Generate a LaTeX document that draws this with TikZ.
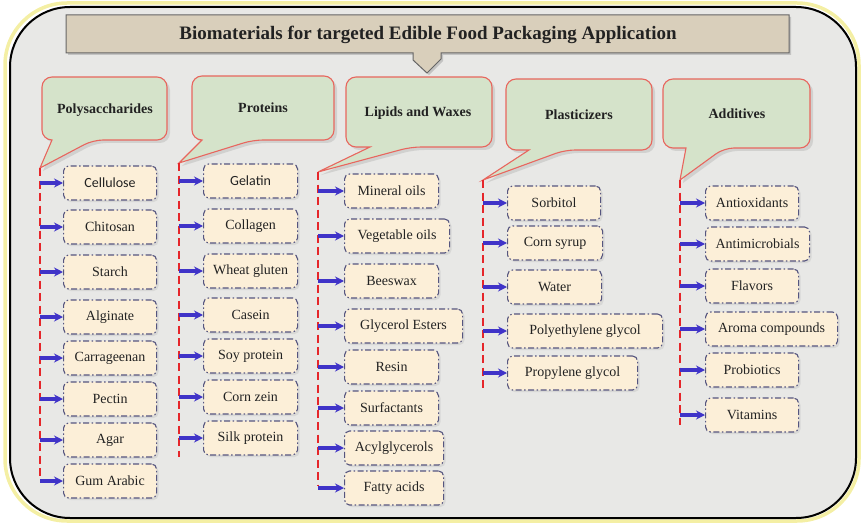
\documentclass[tikz,border=0pt]{standalone}
\usepackage{fontspec}
\setmainfont{Liberation Serif}
\newfontfamily\calfont{Carlito}
\usetikzlibrary{arrows.meta,shadows}
\definecolor{bgc}{HTML}{E8E8E6}
\definecolor{glow}{HTML}{F4EFA4}
\definecolor{banfill}{HTML}{D9CFBB}
\definecolor{callfill}{HTML}{D5E3CA}
\definecolor{callline}{HTML}{E8665E}
\definecolor{boxfill}{HTML}{FCEFD8}
\definecolor{boxline}{HTML}{55557F}
\definecolor{arrc}{HTML}{3F33C8}
\definecolor{dashc}{HTML}{E5262A}
\definecolor{txtc}{HTML}{222222}
\tikzset{
  banshape/.style={fill=banfill,draw=gray!80!black,line width=1pt,
    drop shadow={opacity=0.35,shadow xshift=2pt,shadow yshift=-2pt}},
  callshape/.style={fill=callfill,draw=callline,line width=1.1pt,
    drop shadow={opacity=0.22,shadow xshift=3pt,shadow yshift=-3pt}},
  cattext/.style={font=\fontsize{14}{16}\selectfont\bfseries,text=txtc},
  itembox/.style={anchor=west,draw=boxline,fill=boxfill,rounded corners=5pt,
    line width=1.1pt,dash pattern=on 6pt off 2.5pt on 1.5pt off 2.5pt,
    minimum height=34pt,inner sep=1pt,font=\fontsize{14}{16}\selectfont,text=txtc,
    drop shadow={opacity=0.15,shadow xshift=2pt,shadow yshift=-2pt}},
  conn/.style={draw=arrc,line width=3.2pt,-{Stealth[length=9pt,width=9pt]}},
  dline/.style={draw=dashc,line width=2.2pt,dash pattern=on 8pt off 4.5pt}
}
\begin{document}
\begin{tikzpicture}[x=1pt,y=-1pt]
\useasboundingbox (0,0) rectangle (862,524);
% frame
\draw[glow,line width=3.5pt,rounded corners=62pt] (5,3) rectangle (859,521);
\draw[black,fill=bgc,line width=2pt,rounded corners=60pt] (10,7) rectangle (856,518);
% title banner
\draw[banshape] (66,15) -- (789,15) -- (789,53) -- (441,53) -- (441,59) -- (427,73)
  -- (413,60) -- (413,53) -- (66,53) -- cycle;
\node[font=\fontsize{19}{22}\selectfont\bfseries,text=txtc] (title) at (428,35)
  {Biomaterials for targeted Edible Food Packaging Application};
% dashed line ends
\coordinate (c1top) at (40,168);  \coordinate (c1bot) at (40,480);
\coordinate (c2top) at (179,163); \coordinate (c2bot) at (179,457);
\coordinate (c3top) at (318,172); \coordinate (c3bot) at (318,486);
\coordinate (c4top) at (483,180); \coordinate (c4bot) at (483,388);
\coordinate (c5top) at (680,180); \coordinate (c5bot) at (680,425);
% callouts
\draw[callshape] (52,140) [rounded corners=10pt] -- (42,140) -- (42,77) -- (167,77) -- (167,140) -- (93,140) [sharp corners] -- (c1top) -- cycle;
\draw[callshape] (202,140) [rounded corners=10pt] -- (192,140) -- (192,76) -- (334,76) -- (334,140) -- (253,140) [sharp corners] -- (c2top) -- cycle;
\draw[callshape] (370,147) [rounded corners=10pt] -- (346,147) -- (346,77) -- (492,77) -- (492,147) -- (411,147) [sharp corners] -- (c3top) -- cycle;
\draw[callshape] (529,150) [rounded corners=10pt] -- (506,150) -- (506,79) -- (652,79) -- (652,150) -- (565,150) [sharp corners] -- (c4top) -- cycle;
\draw[callshape] (686,148) [rounded corners=10pt] -- (663,148) -- (663,79) -- (810,79) -- (810,148) -- (724,148) [sharp corners] -- (c5top) -- cycle;
\node[cattext] (polys) at (105,110) {Polysaccharides};
\node[cattext] (prot) at (263,108) {Proteins};
\node[cattext] (lipid) at (418,113) {Lipids and Waxes};
\node[cattext] (plast) at (579,115) {Plasticizers};
\node[cattext] (addit) at (737,114) {Additives};
% dashed lines
\foreach \k in {1,...,5} {\draw[dline] (c\k top) -- (c\k bot);}
% column 1
\foreach \nm/\txt/\yy/\ww in {
  a1/{\calfont Cellulose}/183/93, a2/Chitosan/227/93, a3/Starch/272/93,
  a4/Alginate/317/93, a5/Carrageenan/358/93, a6/Pectin/399/93,
  a7/Agar/440/93, a8/Gum Arabic/481/93} {
  \node[itembox,minimum width=\ww pt] (\nm) at (63,\yy) {\txt};
  \draw[conn] (\nm.west -| c1top) -- (\nm.west);
}
% column 2
\foreach \nm/\txt/\yy/\ww in {
  b1/{\calfont Gelatin}/181/94, b2/Collagen/226/94, b3/Wheat gluten/271/94,
  b4/Casein/315/94, b5/Soy protein/356/94, b6/Corn zein/397/94,
  b7/Silk protein/438/94} {
  \node[itembox,minimum width=\ww pt] (\nm) at (203,\yy) {\txt};
  \draw[conn] (\nm.west -| c2top) -- (\nm.west);
}
% column 3
\foreach \nm/\txt/\yy/\ww in {
  d1/Mineral oils/191/94, d2/Vegetable oils/236/105, d3/Beeswax/281/94,
  d4/Glycerol Esters/326/118, d5/Resin/367/94, d6/Surfactants/408/94,
  d7/Acylglycerols/448/99, d8/Fatty acids/488/99} {
  \node[itembox,minimum width=\ww pt] (\nm) at (344,\yy) {\txt};
  \draw[conn] (\nm.west -| c3top) -- (\nm.west);
}
% column 4
\foreach \nm/\txt/\yy/\ww in {
  e1/Sorbitol/203/93, e2/Corn syrup/243/95, e3/Water/287/94,
  e4/Polyethylene glycol/331/155, e5/Propylene glycol/373/130} {
  \node[itembox,minimum width=\ww pt] (\nm) at (507,\yy) {\txt};
  \draw[conn] (\nm.west -| c4top) -- (\nm.west);
}
% column 5
\foreach \nm/\txt/\yy/\ww in {
  f1/Antioxidants/203/93, f2/Antimicrobials/244/104, f3/Flavors/286/93,
  f4/Aroma compounds/329/132, f5/Probiotics/370/93, f6/Vitamins/415/93} {
  \node[itembox,minimum width=\ww pt] (\nm) at (705,\yy) {\txt};
  \draw[conn] (\nm.west -| c5top) -- (\nm.west);
}
\end{tikzpicture}
\end{document}
